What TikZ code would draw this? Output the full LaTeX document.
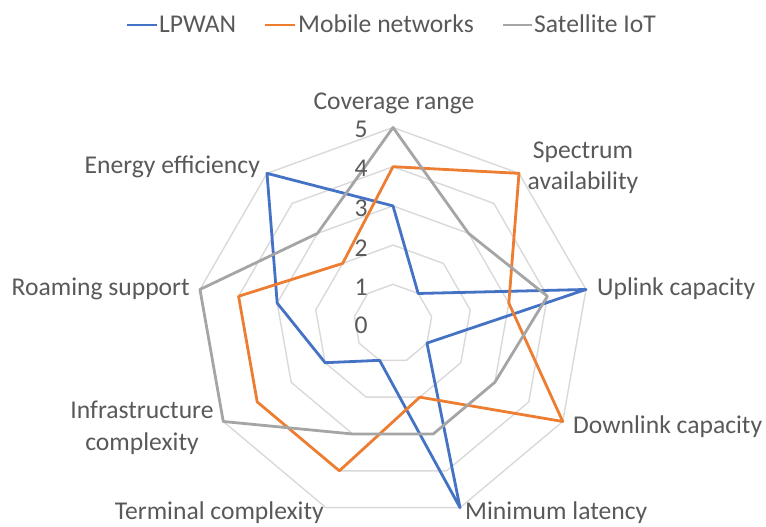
\documentclass[tikz,border=0pt]{standalone}
\usepackage{fontspec}
\setmainfont{Carlito}
\definecolor{lpblue}{HTML}{4472C4}
\definecolor{mborange}{HTML}{ED7D31}
\definecolor{satgray}{HTML}{A5A5A5}
\definecolor{gridgray}{HTML}{D9D9D9}
\definecolor{txtgray}{HTML}{595959}
\begin{document}
\begin{tikzpicture}[x=1pt,y=-1pt,
  every node/.style={text=txtgray,font=\fontsize{25.6}{31.5}\selectfont,inner sep=0pt},
  gridline/.style={draw=gridgray,line width=1.4pt},
  series/.style={line width=2.8pt,line join=round},
  lpline/.style={series,draw=lpblue},
  mbline/.style={series,draw=mborange},
  satline/.style={series,draw=satgray},
  legline/.style={line width=2.8pt}]
\useasboundingbox (0,0) rectangle (766,527);
% legend
\coordinate (lg1a) at (127,25); \coordinate (lg1b) at (157,25);
\coordinate (lg2a) at (265,25); \coordinate (lg2b) at (295,25);
\coordinate (lg3a) at (503,25); \coordinate (lg3b) at (532,25);
\draw[legline,lpblue] (lg1a) -- (lg1b);
\draw[legline,mborange] (lg2a) -- (lg2b);
\draw[legline,satgray] (lg3a) -- (lg3b);
\node[anchor=mid west] (leg1) at (159,30) {LPWAN};
\node[anchor=mid west] (leg2) at (298,30) {Mobile networks};
\node[anchor=mid west] (leg3) at (534,30) {Satellite IoT};
\begin{scope}[shift={(393,323.5)}]
  \coordinate (O) at (0,0);
  % grid rings
  \foreach \k in {1,...,5}{
    \pgfmathsetmacro{\r}{\k*39.2}
    \draw[gridline] (90:\r pt) \foreach \i in {1,...,8}{ -- ({90-40*\i}:\r pt)} -- cycle;
  }
  % data points
  \foreach \v [count=\i from 0] in {3,1,5,1,5,1,2,3,5}{
    \coordinate (L\i) at ({90-40*\i}:{\v*39.2pt});
  }
  \foreach \v [count=\i from 0] in {4,5,3,5,2,4,4,4,2}{
    \coordinate (M\i) at ({90-40*\i}:{\v*39.2pt});
  }
  \foreach \v [count=\i from 0] in {5,3,4,3,3,3,5,5,3}{
    \coordinate (S\i) at ({90-40*\i}:{\v*39.2pt});
  }
  \draw[lpline] (L0)--(L1)--(L2)--(L3)--(L4)--(L5)--(L6)--(L7)--(L8)--cycle;
  \draw[mbline] (M0)--(M1)--(M2)--(M3)--(M4)--(M5)--(M6)--(M7)--(M8)--cycle;
  \draw[satline] (S0)--(S1)--(S2)--(S3)--(S4)--(S5)--(S6)--(S7)--(S8)--cycle;
\end{scope}
% tick labels
\node (t0) at (361,325) {0};
\node (t1) at (361,287) {1};
\node (t2) at (361,248) {2};
\node (t3) at (361,208) {3};
\node (t4) at (361,168) {4};
\node (t5) at (361,129) {5};
% axis labels
\node[anchor=mid] (a0) at (394,107) {Coverage range};
\node[align=center] (a1) at (583,168) {Spectrum\\availability};
\node[anchor=mid west] (a2) at (597,293) {Uplink capacity};
\node[anchor=mid west] (a3) at (573,431) {Downlink capacity};
\node[anchor=mid west] (a4) at (465,517) {Minimum latency};
\node[anchor=mid east] (a5) at (324,517) {Terminal complexity};
\node[align=center] (a6) at (142,428) {Infrastructure\\complexity};
\node[anchor=mid east] (a7) at (190,293) {Roaming support};
\node[anchor=mid east] (a8) at (260,171) {Energy efficiency};
\end{tikzpicture}
\end{document}
